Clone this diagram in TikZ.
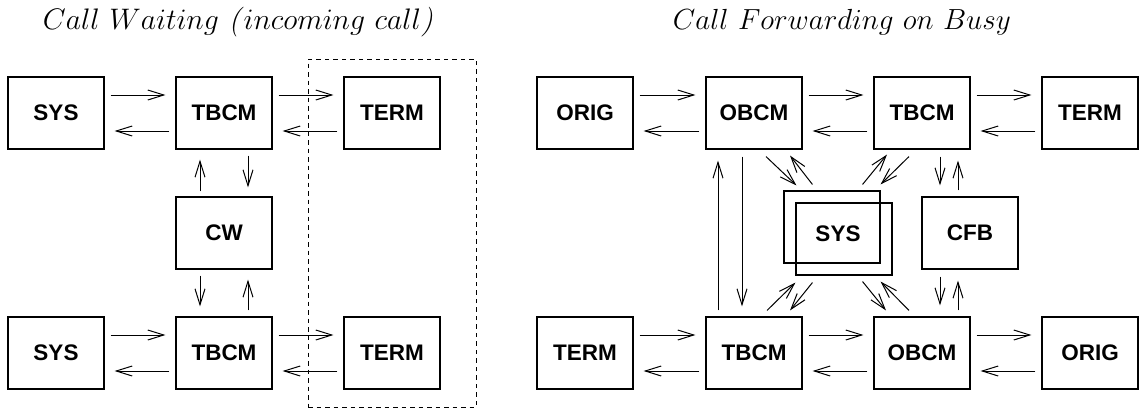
\documentclass[tikz,border=0pt]{standalone}
\usepackage{fontspec}
\newfontfamily\boxfont{Liberation Sans}
\usetikzlibrary{arrows.meta,calc}

\tikzset{
  blk/.style={draw, line width=1.1bp, minimum width=96bp, minimum height=72bp,
    inner sep=0pt, font=\boxfont\bfseries\fontsize{22.5bp}{26bp}\selectfont},
  lbl/.style={inner sep=0pt, font=\boxfont\bfseries\fontsize{22.5bp}{26bp}\selectfont},
  conn/.style={line width=1bp, -{Straight Barb[length=16bp,width=10bp]}},
  ttl/.style={inner sep=0pt, anchor=base, font=\fontsize{12pt}{14pt}\selectfont},
  envbox/.style={draw, line width=1bp, dash pattern=on 4.5bp off 4bp}
}

% two opposite arrows between horizontally adjacent boxes
\newcommand\linkpair[2]{%
  \draw[conn] ($(#1.east)+(6,-18)$) -- ($(#2.west)+(-10,-18)$);
  \draw[conn] ($(#2.west)+(-6,18)$) -- ($(#1.east)+(10,18)$);}

\begin{document}
\begin{tikzpicture}[x=1bp,y=-1bp]
\useasboundingbox (0,0) rectangle (1141,408);

% ---------- Call Waiting ----------
\node[ttl] (cwtitle) at (238,29) {\resizebox{390bp}{!}{$Call\ Waiting\ $\textit{(}$incoming\ call$\textit{)}}};

\node[envbox, minimum width=168bp, minimum height=348bp] (env) at (392,233) {};

\node[blk] (sysA)  at (56,113)  {SYS};
\node[blk] (tbA)   at (224,113) {TBCM};
\node[blk] (termA) at (392,113) {TERM};
\node[blk] (cw)    at (224,233) {CW};
\node[blk] (sysB)  at (56,353)  {SYS};
\node[blk] (tbB)   at (224,353) {TBCM};
\node[blk] (termB) at (392,353) {TERM};

\linkpair{sysA}{tbA}
\linkpair{tbA}{termA}
\linkpair{sysB}{tbB}
\linkpair{tbB}{termB}

\draw[conn] ($(cw.north)+(-24,-5)$) -- ($(tbA.south)+(-24,10)$);
\draw[conn] ($(tbA.south)+(24,6)$) -- ($(cw.north)+(24,-9)$);
\draw[conn] ($(cw.south)+(-24,6)$) -- ($(tbB.north)+(-24,-10)$);
\draw[conn] ($(tbB.north)+(24,-6)$) -- ($(cw.south)+(24,10)$);

% ---------- Call Forwarding on Busy ----------
\node[ttl] (cfbtitle) at (842,29) {\resizebox{338bp}{!}{$Call\ Forwarding\ on\ Busy$}};

\node[blk] (orig1) at (585,113)  {ORIG};
\node[blk] (ob1)   at (754,113)  {OBCM};
\node[blk] (tb1)   at (922,113)  {TBCM};
\node[blk] (term1) at (1090,113) {TERM};

\node[blk] (sysback)  at (832,227) {};
\node[blk] (sysfront) at (844,239) {};
\node[lbl] (syslbl)   at (838,234) {SYS};
\node[blk] (cfb)      at (970,233) {CFB};

\node[blk] (term2) at (585,353)  {TERM};
\node[blk] (tb2)   at (754,353)  {TBCM};
\node[blk] (ob2)   at (922,353)  {OBCM};
\node[blk] (orig2) at (1090,353) {ORIG};

\linkpair{orig1}{ob1}
\linkpair{ob1}{tb1}
\linkpair{tb1}{term1}
\linkpair{term2}{tb2}
\linkpair{tb2}{ob2}
\linkpair{ob2}{orig2}

% long links between the originating and terminating call models
\draw[conn] ($(tb2.north)+(-36,-6)$) -- ($(ob1.south)+(-36,11)$);
\draw[conn] ($(ob1.south)+(-12,7)$) -- ($(tb2.north)+(-12,-10)$);

% feature CFB
\draw[conn] ($(tb1.south)+(18,7)$) -- ($(cfb.north)+(-30,-11)$);
\draw[conn] ($(cfb.north)+(-12,-6)$) -- ($(tb1.south)+(36,11)$);
\draw[conn] ($(cfb.south)+(-30,7)$) -- ($(ob2.north)+(18,-11)$);
\draw[conn] ($(ob2.north)+(36,-6)$) -- ($(cfb.south)+(-12,11)$);

% system links
\draw[conn] ($(ob1.south)+(12,7)$) -- ($(sysback.north west)+(13,-5)$);
\draw[conn] ($(sysback.north west)+(29,-6)$) -- ($(ob1.south)+(36,6)$);
\draw[conn] ($(sysback.north east)+(-18,-6)$) -- ($(tb1.south)+(-35,5)$);
\draw[conn] ($(tb1.south)+(-13,7)$) -- ($(sysback.north east)+(0,-6)$);
\draw[conn] ($(tb2.north)+(13,-6)$) -- ($(sysfront.south west)+(0,7)$);
\draw[conn] ($(sysfront.south west)+(17,7)$) -- ($(tb2.north)+(36,-6)$);
\draw[conn] ($(sysfront.south east)+(-30,6)$) -- ($(ob2.north)+(-36,-6)$);
\draw[conn] ($(ob2.north)+(-13,-6)$) -- ($(sysfront.south east)+(-12,6)$);
\end{tikzpicture}
\end{document}
